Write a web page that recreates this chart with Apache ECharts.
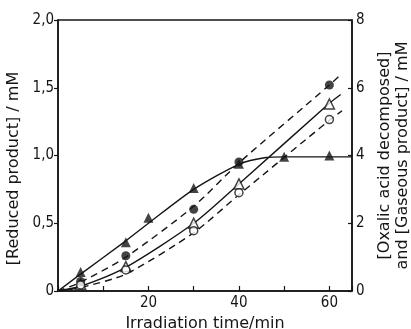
<!DOCTYPE html>
<html>
<head>
<meta charset="utf-8">
<script src="https://cdn.jsdelivr.net/npm/echarts@6/dist/echarts.min.js"></script>
<style>
  html, body { margin: 0; padding: 0; background: #fff; }
  #chart { width: 411px; height: 329px; }
</style>
</head>
<body>
<div id="chart"></div>
<script>
// measured points (time in min)
const times = [5, 15, 20, 30, 40, 50, 60];
const timesC = [5, 15, 30, 40, 60];
// reduced product, left axis (mM)
const filledTri = [0.14, 0.36, 0.54, 0.76, 0.94, 0.99, 1.0];
const openTri = [0.05, 0.18, 0.50, 0.79, 1.38];
// oxalic acid decomposed / gaseous product, right axis (mM)
const filledCirc = [0.28, 1.04, 2.41, 3.81, 6.08];
const openCirc = [0.18, 0.62, 1.78, 2.90, 5.06];

// hand drawn curves
const curveFilledTri = [[0, 0], [5, 0.125], [15, 0.37], [20, 0.5], [30, 0.75], [40, 0.935], [46, 0.985], [50, 0.99], [65, 0.99]];
const curveOpenTri = [[0, 0], [5, 0.035], [15, 0.175], [30, 0.5], [40, 0.79], [60, 1.385], [62.5, 1.45]];
const curveFilledCirc = [[0, 0], [5, 0.26], [15, 1.0], [30, 2.5], [40, 3.78], [60, 6.08], [62.3, 6.36]];
const curveOpenCirc = [[0, 0], [5, 0.1], [15, 0.5], [30, 1.72], [40, 2.84], [60, 5.04], [62.8, 5.32]];

const xLabels = [20, 40, 60];

const ink = "#151515";
const tickFont = "'DejaVu Sans Condensed', 'DejaVu Sans', sans-serif";
const nameFont = "'DejaVu Sans', sans-serif";

const chart = echarts.init(document.getElementById("chart"));

function pairs(xs, ys) {
    return xs.map((x, i) => [x, ys[i]]);
}

function curve(data, axis, dashed) {
    return {
        type: "line",
        yAxisIndex: axis,
        data: data,
        smooth: 0.25,
        showSymbol: false,
        symbol: "none",
        silent: true,
        z: 2,
        lineStyle: { color: ink, width: 1.4, type: dashed ? [7, 5] : "solid" }
    };
}

function marks(data, axis, symbol, filled, size) {
    return {
        type: "scatter",
        yAxisIndex: axis,
        data: data,
        symbol: symbol,
        symbolSize: size,
        z: 5,
        itemStyle: filled
            ? { color: ink }
            : { color: "#fff", borderColor: ink, borderWidth: 1.5 }
    };
}

const options = {
    animation: false,
    backgroundColor: "#fff",
    grid: {
        show: true,
        left: 58,
        right: 59,
        top: 20,
        bottom: 38,
        containLabel: false,
        outerBoundsMode: "none",
        borderColor: ink,
        borderWidth: 1.5,
        backgroundColor: "transparent"
    },
    xAxis: {
        type: "value",
        min: 0,
        max: 65,
        interval: 10,
        name: "Irradiation time/min",
        nameLocation: "middle",
        nameGap: 25,
        nameTextStyle: { color: ink, fontSize: 16, fontFamily: nameFont },
        axisLine: { show: true, lineStyle: { color: ink, width: 1.5 } },
        axisTick: { show: true, inside: true, length: 5, lineStyle: { color: ink, width: 1.2 } },
        splitLine: { show: false },
        axisLabel: {
            color: ink,
            fontSize: 15,
            fontFamily: tickFont,
            margin: 5,
            formatter: (v) => (xLabels.includes(v) ? String(v) : "")
        }
    },
    yAxis: [
        {
            type: "value",
            min: 0,
            max: 2,
            interval: 0.5,
            name: "[Reduced product] / mM",
            nameLocation: "middle",
            nameGap: 24,
            nameRotate: 90,
            nameTextStyle: { color: ink, fontSize: 16, fontFamily: nameFont, padding: [0, 26, 0, 0] },
            axisLine: { show: true, lineStyle: { color: ink, width: 1.5 } },
            axisTick: { show: true, inside: false, length: 4, lineStyle: { color: ink, width: 1.2 } },
            splitLine: { show: false },
            axisLabel: {
                color: ink,
                fontSize: 15,
                fontFamily: tickFont,
                margin: 4,
                formatter: (v) => (v === 0 ? "0" : v.toFixed(1).replace(".", ","))
            }
        },
        {
            type: "value",
            position: "right",
            min: 0,
            max: 8,
            interval: 2,
            name: "[Oxalic acid decomposed]\nand [Gaseous product] / mM",
            nameLocation: "middle",
            nameGap: 21,
            nameRotate: 90,
            nameTextStyle: { color: ink, fontSize: 16, fontFamily: nameFont, lineHeight: 18 },
            axisLine: { show: true, lineStyle: { color: ink, width: 1.5 } },
            axisTick: { show: true, inside: true, length: 4, lineStyle: { color: ink, width: 1.2 } },
            splitLine: { show: false },
            axisLabel: { color: ink, fontSize: 15, fontFamily: tickFont, margin: 4 }
        }
    ],
    series: [
        curve(curveFilledTri, 0, false),
        curve(curveOpenTri, 0, false),
        curve(curveFilledCirc, 1, true),
        curve(curveOpenCirc, 1, true),
        marks(pairs(times, filledTri), 0, "triangle", true, 10),
        marks(pairs(timesC, openTri), 0, "triangle", false, 10),
        marks(pairs(timesC, filledCirc), 1, "circle", true, 9),
        marks(pairs(timesC, openCirc), 1, "circle", false, 8)
    ]
};

chart.setOption(options);
</script>
</body>
</html>
